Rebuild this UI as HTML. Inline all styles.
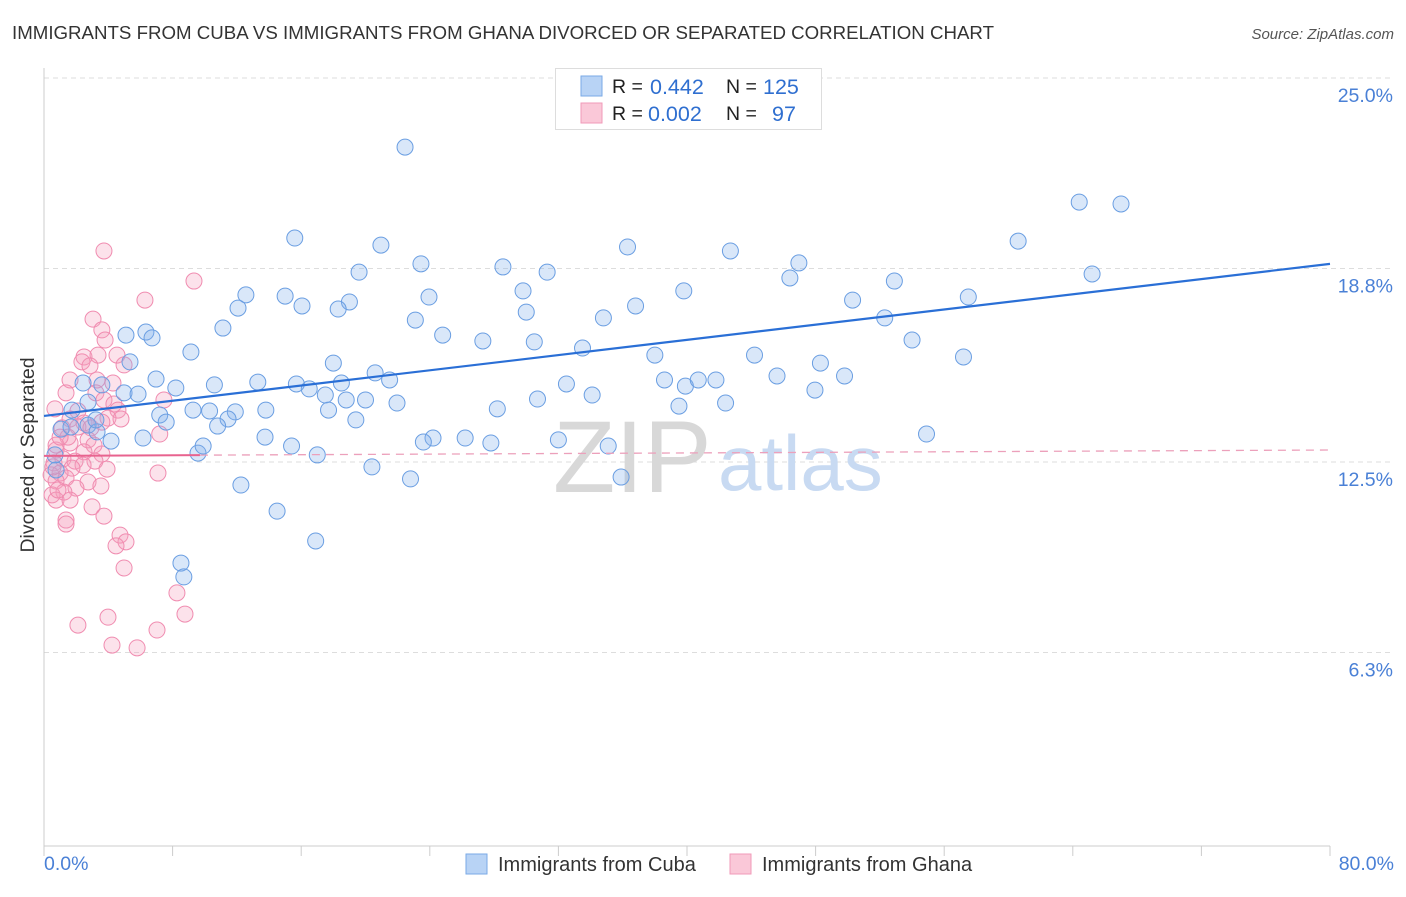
<!DOCTYPE html>
<html><head><meta charset="utf-8">
<style>
body{margin:0;background:#fff;font-family:"Liberation Sans",sans-serif;}
svg text{font-family:"Liberation Sans",sans-serif;}
</style></head>
<body>
<svg id="chart" width="1406" height="892">
<text x="12" y="39" font-size="18.5" fill="#333" textLength="982" lengthAdjust="spacingAndGlyphs">IMMIGRANTS FROM CUBA VS IMMIGRANTS FROM GHANA DIVORCED OR SEPARATED CORRELATION CHART</text>
<text x="1394" y="39" font-size="15" fill="#555" font-style="italic" text-anchor="end">Source: ZipAtlas.com</text>
<text transform="translate(34,455) rotate(-90)" font-size="19.5" fill="#333" text-anchor="middle">Divorced or Separated</text>
<g id="grid"></g>
<g id="axes"></g>
<text x="553" y="492" font-size="102" fill="#d8d8d8" font-family="Liberation Serif">ZIP</text>
<text x="718" y="490" font-size="78" fill="#c8daf2">atlas</text>
<g id="pink"></g>
<g id="blue"></g>
<g id="trends"></g>
<g>
<rect x="555.5" y="68.5" width="266" height="61" fill="#fff" stroke="#ddd"/>
<rect x="581" y="76" width="21" height="20" fill="#b8d3f5" stroke="#7aaae6"/>
<rect x="581" y="103" width="21" height="20" fill="#fac8d8" stroke="#f09ab8"/>
<text x="612" y="93" font-size="19.5" fill="#222">R =</text><text x="650" y="94" font-size="21.5" fill="#2f6fd0">0.442</text>
<text x="726" y="93" font-size="19.5" fill="#222">N =</text><text x="763" y="94" font-size="21.5" fill="#2f6fd0">125</text>
<text x="612" y="120" font-size="19.5" fill="#222">R =</text><text x="648" y="121" font-size="21.5" fill="#2f6fd0">0.002</text>
<text x="726" y="120" font-size="19.5" fill="#222">N =</text><text x="772" y="121" font-size="21.5" fill="#2f6fd0">97</text>
</g>
<g>
<rect x="466" y="854" width="21" height="20" fill="#b8d3f5" stroke="#7aaae6"/>
<text x="498" y="871" font-size="20" fill="#333">Immigrants from Cuba</text>
<rect x="730" y="854" width="21" height="20" fill="#fac8d8" stroke="#f09ab8"/>
<text x="762" y="871" font-size="20" fill="#333">Immigrants from Ghana</text>
</g>
</svg>
<script>
const yTicks=[25.0,18.8,12.5,6.3];
const yTickLabels=["25.0%","18.8%","12.5%","6.3%"];
const xTickLabels=["0.0%","80.0%"];
const cubaX=[22.46,64.4,67.0,15.6,20.96,36.3,42.7,60.6,23.45,28.55,31.3,46.96,19.6,65.2,46.4,52.9,12.56,29.8,39.8,15.0,23.95,19.0,16.05,18.3,36.8,50.3,57.5,12.07,30.0,23.1,34.8,52.3,11.13,5.1,6.34,6.72,24.8,27.3,30.5,54.0,33.5,9.14,38.0,44.2,57.2,18.0,48.3,5.35,20.6,6.97,21.5,38.6,45.6,49.8,2.43,3.6,8.2,13.3,10.6,15.7,16.5,18.5,32.5,39.9,40.7,41.8,4.98,5.85,34.1,17.5,18.8,20.0,21.96,30.7,47.96,1.74,2.74,9.27,10.3,11.9,13.8,17.7,28.2,39.5,42.4,7.2,11.45,10.8,7.6,19.4,2.74,1.06,1.68,3.3,4.17,6.16,13.75,15.4,24.2,23.6,26.2,27.8,32.0,35.1,54.9,9.58,9.9,17.0,20.4,12.25,22.8,35.9,14.5,16.9,8.52,8.7,0.75,0.68,3.23];
const cubaY=[22.75,20.96,20.90,19.79,19.56,19.50,19.37,19.69,18.95,18.85,18.68,18.98,18.68,18.62,18.49,18.39,17.94,18.07,18.07,17.90,17.87,17.71,17.58,17.48,17.58,17.77,17.87,17.51,17.38,17.12,17.19,17.19,16.86,16.63,16.73,16.54,16.63,16.44,16.41,16.47,16.21,16.08,15.98,15.98,15.92,15.72,15.72,15.76,15.40,15.20,15.17,15.17,15.30,15.30,15.07,15.01,14.91,15.10,15.01,15.04,14.88,15.07,15.04,14.97,15.17,15.17,14.75,14.71,14.68,14.68,14.52,14.52,14.42,14.55,14.84,14.19,14.45,14.19,14.16,14.13,14.19,14.19,14.23,14.32,14.42,14.03,13.90,13.67,13.80,13.87,13.70,13.57,13.64,13.48,13.18,13.28,13.31,13.02,13.28,13.15,13.28,13.12,13.22,13.02,13.41,12.79,13.02,12.73,12.34,11.75,11.95,12.01,10.9,9.93,9.21,8.76,12.24,12.73,13.87];
const ghanaX=[3.73,9.33,6.28,3.05,3.6,3.8,2.49,3.36,2.36,4.54,2.86,4.98,1.62,3.3,4.29,1.37,3.23,3.73,4.35,7.46,0.68,2.11,4.6,1.62,3.98,4.79,2.49,2.11,2.92,3.6,1.12,7.2,2.74,1.62,3.11,0.75,2.49,3.6,1.18,1.93,0.62,3.17,2.43,1.74,3.92,7.09,1.0,0.44,1.37,0.75,2.74,3.54,1.99,1.24,0.5,0.75,1.62,2.99,3.73,1.37,1.37,4.73,5.1,4.48,4.98,8.27,8.77,3.98,2.11,7.03,4.23,5.79,1.49,0.75,1.0,0.56,0.87];
const ghanaY=[19.37,18.39,17.77,17.15,16.8,16.47,15.92,15.98,15.76,15.98,15.63,15.66,15.17,15.17,15.07,14.75,14.75,14.52,14.39,14.52,14.23,14.16,14.19,13.9,13.93,13.9,13.77,13.64,13.61,13.8,13.61,13.41,13.22,13.12,13.05,12.89,12.83,12.76,12.6,12.53,12.47,12.53,12.4,12.3,12.27,12.14,12.14,12.08,11.98,11.88,11.85,11.72,11.65,11.52,11.43,11.26,11.26,11.04,10.74,10.61,10.48,10.12,9.9,9.77,9.05,8.24,7.55,7.45,7.19,7.03,6.54,6.45,13.31,13.05,13.31,12.34,11.59];
const cubaTrend=[14.0,18.95];
const ghanaTrend=[12.7,12.89];
const ghanaSolidEnd=9.7;

const X0=44,X1=1330,Y0=846,Ypx=30.72;
const xs=v=>X0+v*(X1-X0)/80;
const ys=v=>Y0-v*Ypx;
const NS="http://www.w3.org/2000/svg";
function mk(t,a,p){const e=document.createElementNS(NS,t);for(const k in a)e.setAttribute(k,a[k]);p.appendChild(e);return e;}
const grid=document.getElementById('grid'),axes=document.getElementById('axes');
yTicks.forEach((v,i)=>{
 const l=mk('line',{x1:44,x2:1394,y1:ys(v),y2:ys(v),stroke:'#ddd','stroke-dasharray':'5,4'},grid);
 
 
 const t=mk('text',{x:1393,y:ys(v)+24,'font-size':19.5,fill:'#4a80d6','text-anchor':'end'},axes);
 t.textContent=yTickLabels[i];
 
 
});
const ax=mk('line',{x1:44,x2:1330,y1:846,y2:846,stroke:'#ccc'},axes);


const ay=mk('line',{x1:44,x2:44,y1:68,y2:846,stroke:'#ccc'},axes);


for(let i=0;i<=10;i++){
 const tk=mk('line',{x1:xs(i*8),x2:xs(i*8),y1:846,y2:856,stroke:'#ccc'},axes);
 
 
}
const xl0=mk('text',{x:44,y:870,'font-size':19.5,fill:'#4a80d6'},axes);xl0.textContent=xTickLabels[0];


const xl1=mk('text',{x:1394,y:870,'font-size':19.5,fill:'#4a80d6','text-anchor':'end'},axes);xl1.textContent=xTickLabels[1];


const pg=document.getElementById('pink'),bg=document.getElementById('blue');
ghanaX.forEach((v,i)=>{
 const c=mk('circle',{cx:xs(v),cy:ys(ghanaY[i]),r:8,fill:'rgba(245,160,190,0.3)',stroke:'#f08cb0','stroke-width':1},pg);
 
 
});
cubaX.forEach((v,i)=>{
 const c=mk('circle',{cx:xs(v),cy:ys(cubaY[i]),r:8,fill:'rgba(130,175,235,0.3)',stroke:'#6a9ee2','stroke-width':1},bg);
 
 
});
const tg=document.getElementById('trends');
const bl=mk('line',{x1:xs(0),y1:ys(cubaTrend[0]),x2:xs(80),y2:ys(cubaTrend[1]),stroke:'#2a6fd6','stroke-width':2.2},tg);


const gAt=v=>ghanaTrend[0]+(ghanaTrend[1]-ghanaTrend[0])*v/80;
const pl=mk('line',{x1:xs(0),y1:ys(gAt(0)),x2:xs(ghanaSolidEnd),y2:ys(gAt(ghanaSolidEnd)),stroke:'#e8638f','stroke-width':2},tg);


const pd=mk('line',{x1:xs(ghanaSolidEnd),y1:ys(gAt(ghanaSolidEnd)),x2:xs(80),y2:ys(gAt(80)),stroke:'#eca0bb','stroke-width':1.3,'stroke-dasharray':'8,6'},tg);


</script>
</body></html>
